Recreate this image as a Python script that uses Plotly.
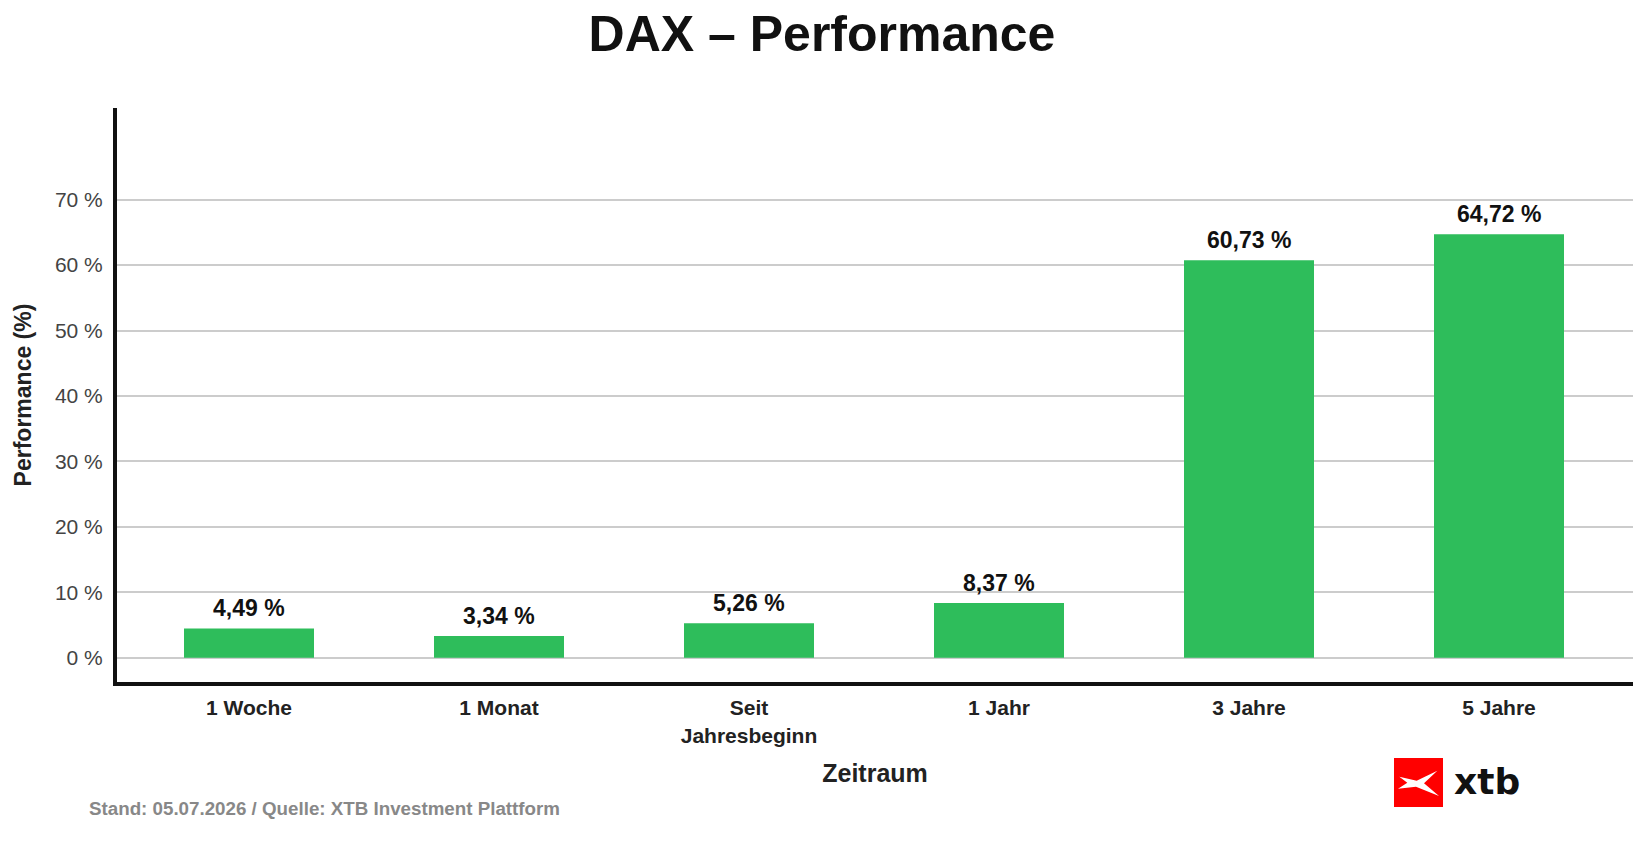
import plotly.graph_objects as go

categories = ["1 Woche", "1 Monat", "Seit<br>Jahresbeginn", "1 Jahr", "3 Jahre", "5 Jahre"]
performance = [4.49, 3.34, 5.26, 8.37, 60.73, 64.72]
y_ticks = [0, 10, 20, 30, 40, 50, 60, 70]
y_tick_labels = [f"{v} %" for v in y_ticks]

W, H = 1647, 847
L, R, T, B = 117, 14, 108, 165
PW, PH = W - L - R, H - T - B

def px(x):
    return (x - L) / PW

def py(y):
    return (H - B - y) / PH

FONT = "Liberation Sans, Arial, sans-serif"

fig = go.Figure()
fig.add_trace(go.Bar(
    x=list(range(len(categories))),
    y=performance,
    marker=dict(color="#2ebd5b", line=dict(width=0)),
    width=0.52,
    hoverinfo="skip",
))

for i, v in enumerate(performance):
    fig.add_annotation(
        x=i, y=v, xref="x", yref="y", text="<b>" + f"{v:.2f}".replace(".", ",") + " %</b>",
        showarrow=False, yanchor="middle", yshift=20,
        font=dict(family=FONT, size=23, color="#111111"),
    )

# logo shapes
zx = lambda v: px(1370 + v / 3)
zy = lambda v: py(740 + v / 3)
pts = [(88, 110), (140, 122), (202, 92), (162, 130), (207, 168), (138, 140), (84, 146), (112, 128)]
path = "M " + " L ".join(f"{zx(a):.5f},{zy(b):.5f}" for a, b in pts) + " Z"

fig.update_layout(
    width=W, height=H,
    margin=dict(l=L, r=R, t=T, b=B, pad=0),
    paper_bgcolor="white", plot_bgcolor="white",
    separators=",.",
    showlegend=False,
    title=dict(text="<b>DAX – Performance</b>", x=822 / W, xanchor="center", xref="container",
               y=1 - 33.5 / H, yanchor="middle", yref="container",
               font=dict(family=FONT, size=50, color="#111111")),
    xaxis=dict(
        tickmode="array", tickvals=list(range(len(categories))), ticktext=categories,
        range=[-0.528, 5.536], showgrid=False, zeroline=False,
        showline=True, linecolor="#111111", linewidth=4,
        ticks="outside", ticklen=4, tickcolor="rgba(0,0,0,0)",
        tickfont=dict(family=FONT, size=21, color="#222222", weight="bold"),
        title=dict(text="<b>Zeitraum</b>", font=dict(family=FONT, size=25, color="#222222"), standoff=20),
        fixedrange=True,
    ),
    yaxis=dict(
        range=[-3.7, 84], tickmode="array", tickvals=y_ticks, ticktext=y_tick_labels,
        showgrid=True, gridcolor="#cccccc", gridwidth=1.5,
        zeroline=False,
        showline=True, linecolor="#111111", linewidth=4,
        ticks="outside", ticklen=6, tickcolor="rgba(0,0,0,0)",
        tickfont=dict(family=FONT, size=21, color="#444444"),
        title=dict(text="<b>Performance (%)</b>", font=dict(family=FONT, size=23, color="#222222"), standoff=18),
        fixedrange=True,
    ),
    shapes=[
        dict(type="rect", xref="paper", yref="paper",
             x0=px(1394), x1=px(1443), y0=py(807), y1=py(758),
             fillcolor="#ff0000", line=dict(width=0), layer="above"),
        dict(type="path", xref="paper", yref="paper", path=path,
             fillcolor="white", line=dict(width=0), layer="above"),
    ],
    annotations=list(fig.layout.annotations) + [
        dict(text="<b>Stand: 05.07.2026 / Quelle: XTB Investment Plattform</b>",
             xref="paper", yref="paper", x=px(87), y=py(808), xanchor="left", yanchor="middle",
             showarrow=False, font=dict(family=FONT, size=18.75, color="#888888")),
        dict(text="<b>xtb</b>",
             xref="paper", yref="paper", x=px(1452), y=py(781), xanchor="left", yanchor="middle",
             showarrow=False, font=dict(family="DejaVu Sans, sans-serif", size=36, color="#111111")),
    ],
)

fig.write_html("out.html")
